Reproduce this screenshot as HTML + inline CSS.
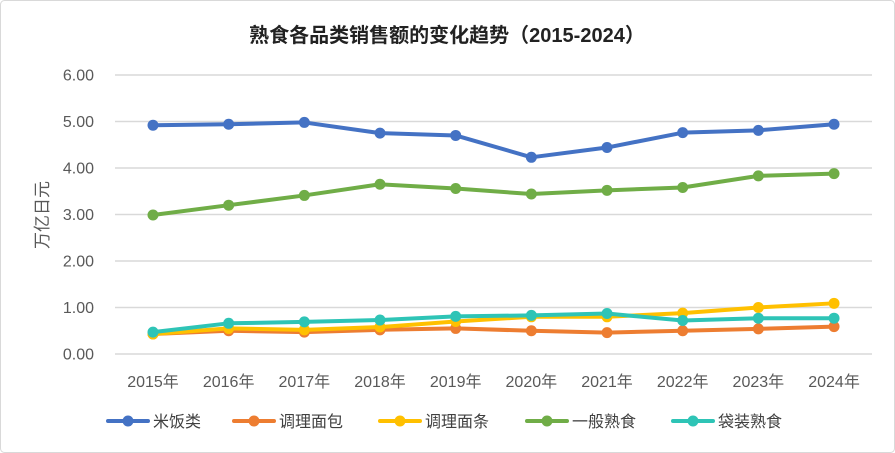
<!DOCTYPE html>
<html><head><meta charset="utf-8"><style>
body{margin:0;background:#fff}
svg{display:block}
text{font-family:"Liberation Sans","Noto Sans CJK SC",sans-serif}
</style></head><body>
<svg id="c" width="895" height="453" xmlns="http://www.w3.org/2000/svg">
<rect x="0.5" y="0.5" width="894" height="452" rx="4" fill="#fff" stroke="#d9d9d9"/>
<text x="447" y="42" text-anchor="middle" font-size="20" font-weight="bold" fill="#222">熟食各品类销售额的变化趋势（2015-2024）</text>
<text transform="translate(48,215) rotate(-90)" text-anchor="middle" font-size="17" fill="#595959">万亿日元</text>
<g id="g"></g>
</svg>
<script>
var g=document.getElementById('g'),h='';
function Y(v){return 354-v*46.5}
for(var i=0;i<=6;i++){var y=Y(i);h+='<line x1="115" x2="872" y1="'+y+'" y2="'+y+'" stroke="#d9d9d9" stroke-width="1.5"/>';h+='<text x="94" y="'+(y+5.5)+'" text-anchor="end" font-size="16" fill="#595959">'+i+'.00</text>';}
var X=function(i){return 153+i*75.67};
for(var i=0;i<10;i++)h+='<text x="'+X(i)+'" y="387" text-anchor="middle" font-size="16" fill="#595959">'+(2015+i)+'年</text>';
var S=[
['#4472C4','米饭类',[4.92,4.94,4.98,4.75,4.70,4.23,4.44,4.76,4.81,4.94],108],
['#ED7D31','调理面包',[0.43,0.50,0.47,0.52,0.55,0.50,0.46,0.50,0.54,0.59],234],
['#FFC000','调理面条',[0.43,0.55,0.52,0.58,0.70,0.80,0.80,0.88,1.00,1.09],380],
['#70AD47','一般熟食',[2.99,3.20,3.41,3.65,3.56,3.44,3.52,3.58,3.83,3.88],527],
['#2EC4B6','袋装熟食',[0.47,0.66,0.69,0.73,0.81,0.83,0.87,0.72,0.77,0.77],673]];
S.forEach(function(s){var p=s[2].map(function(v,i){return X(i)+','+Y(v)}).join(' ');
h+='<polyline points="'+p+'" fill="none" stroke="'+s[0]+'" stroke-width="4" stroke-linejoin="round" stroke-linecap="round"/>';
s[2].forEach(function(v,i){h+='<circle cx="'+X(i)+'" cy="'+Y(v)+'" r="5.5" fill="'+s[0]+'"/>'});
var lx=s[3];h+='<line x1="'+lx+'" x2="'+(lx+40)+'" y1="421" y2="421" stroke="'+s[0]+'" stroke-width="4" stroke-linecap="round"/><circle cx="'+(lx+20)+'" cy="421" r="5.5" fill="'+s[0]+'"/>';
h+='<text x="'+(lx+45)+'" y="427" font-size="16" fill="#404040">'+s[1]+'</text>';});
g.innerHTML=h;
</script>
</body></html>
